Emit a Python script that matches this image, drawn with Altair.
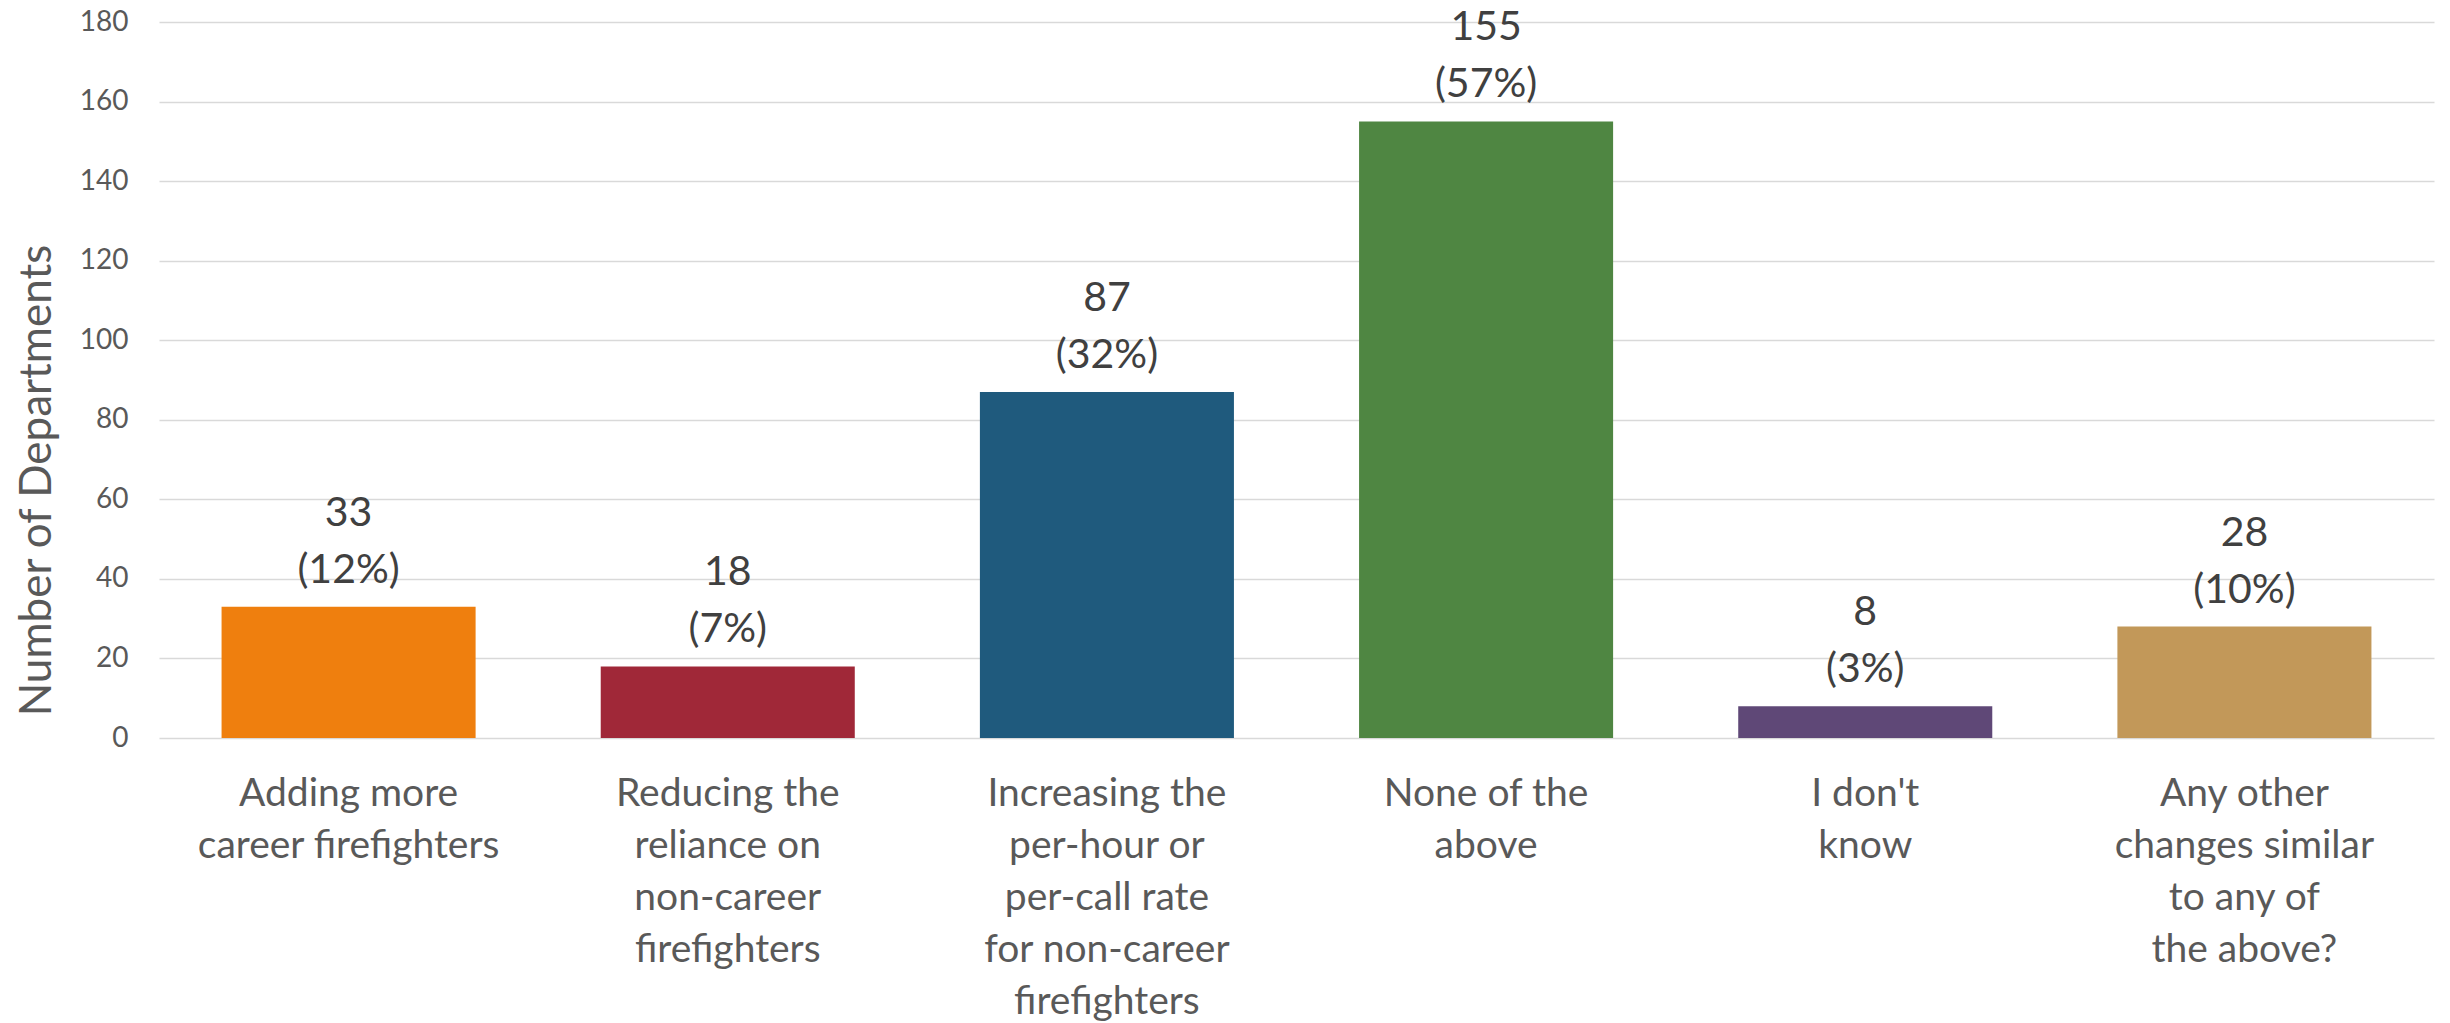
import altair as alt
import pandas as pd

# ---- data ----
category_lines = [
    ["Adding more", "career firefighters"],
    ["Reducing the", "reliance on", "non-career", "firefighters"],
    ["Increasing the", "per-hour or", "per-call rate", "for non-career", "firefighters"],
    ["None of the", "above"],
    ["I don't", "know"],
    ["Any other", "changes similar", "to any of", "the above?"],
]
counts = [33, 18, 87, 155, 8, 28]
percents = [12, 7, 32, 57, 3, 10]
bar_colors = ["#EF7F0E", "#A02838", "#1F5A7D", "#4F8642", "#5F4877", "#C29859"]
y_ticks = [0, 20, 40, 60, 80, 100, 120, 140, 160, 180]

categories = ["\n".join(lines) for lines in category_lines]
labels = [f"{c}\n({p}%)" for c, p in zip(counts, percents)]

df = pd.DataFrame({"category": categories, "count": counts, "label": labels})

FONT = "Lato"
AXIS_GREY = "#595959"

x_enc = alt.X(
    "category:N",
    sort=categories,
    scale=alt.Scale(paddingInner=0.33, paddingOuter=0.165),
    axis=alt.Axis(
        title=None,
        ticks=False,
        domain=False,
        labelAngle=0,
        labelAlign="center",
        labelBaseline="top",
        labelExpr="split(datum.label, '\\n')",
        labelFont=FONT,
        labelFontSize=39,
        labelLineHeight=52,
        labelColor=AXIS_GREY,
        labelPadding=36,
        labelLimit=1000,
        labelOverlap=False,
    ),
)

y_scale = alt.Scale(domain=[0, 180], nice=False)

bars = alt.Chart(df).mark_bar().encode(
    x=x_enc,
    y=alt.Y(
        "count:Q",
        scale=y_scale,
        axis=alt.Axis(
            values=y_ticks,
            title="Number of Departments",
            titleFont=FONT,
            titleFontSize=44,
            titleFontWeight="normal",
            titleColor=AXIS_GREY,
            titleAngle=-90,
            titleX=-109,
            titleY=458,
            titleAlign="center",
            titleBaseline="alphabetic",
            labelFont=FONT,
            labelFontSize=28,
            labelColor=AXIS_GREY,
            labelPadding=31,
            ticks=False,
            domain=False,
            grid=True,
            gridColor="#D9D9D9",
            gridWidth=1.5,
        ),
    ),
    color=alt.Color(
        "category:N",
        scale=alt.Scale(domain=categories, range=bar_colors),
        legend=None,
    ),
)

text = alt.Chart(df).mark_text(
    lineBreak="\n",
    baseline="bottom",
    align="center",
    dy=-72,
    font=FONT,
    fontSize=41,
    lineHeight=57,
    color="#404040",
).encode(
    x=alt.X("category:N", sort=categories),
    y=alt.Y("count:Q", scale=y_scale),
    text="label:N",
)

chart = (
    alt.layer(bars, text)
    .properties(
        width=2275,
        height=716,
        autosize=alt.AutoSizeParams(type="none"),
        padding={"left": 159, "top": 22, "right": 16, "bottom": 285},
        background="white",
    )
    .configure_view(stroke=None)
)

chart.save("out.html", embed_options={"renderer": "svg", "actions": False})
